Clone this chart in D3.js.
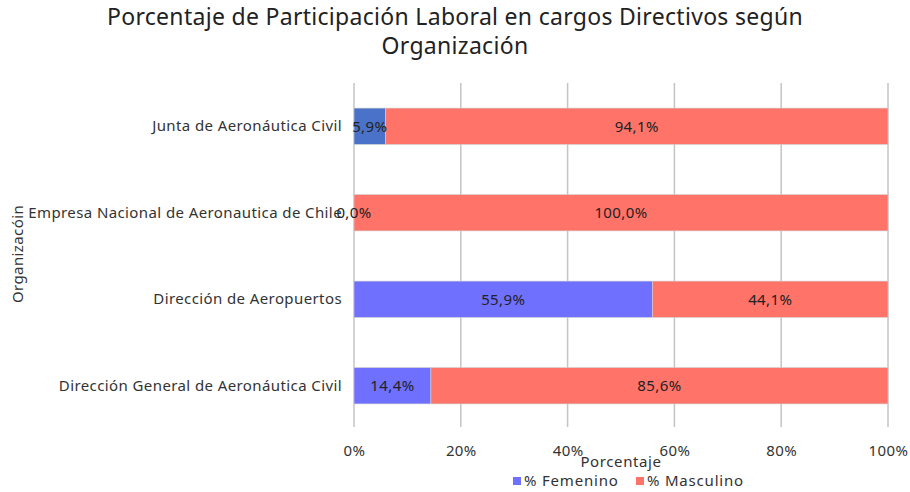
<!DOCTYPE html>
<html>
<head>
<meta charset="utf-8">
<script src="https://cdn.jsdelivr.net/npm/d3@7"></script>
<style>
  body { margin: 0; background: #fff; }
  svg { font-family: "Noto Sans", "Open Sans", sans-serif; letter-spacing: 0.4px; }
</style>
</head>
<body>
<svg id="chart" width="910" height="492"></svg>
<script>
// datos
const organizaciones = [
  "Junta de Aeronáutica Civil",
  "Empresa Nacional de Aeronautica de Chile",
  "Dirección de Aeropuertos",
  "Dirección General de Aeronáutica Civil"
];
const femenino  = [5.9, 0.0, 55.9, 14.4];
const masculino = [94.1, 100.0, 44.1, 85.6];
const xTicks = [0, 20, 40, 60, 80, 100];
const series = ["% Femenino", "% Masculino"];

const svg = d3.select("#chart");
const W = +svg.attr("width");

const m = { top: 83, right: 22, bottom: 63, left: 354 };
const plotW = 888 - m.left;
const plotH = 429 - m.top;

const colorFem = "#7070ff", colorFemTop = "#4a72c8", colorMas = "#ff7369";
const fmt = v => v.toFixed(1).replace(".", ",") + "%";
const FS = "15px";

// título
[["Porcentaje de Participación Laboral en cargos Directivos según", 25], ["Organización", 54]]
  .forEach(([t, yy]) => {
    svg.append("text")
      .attr("x", W / 2).attr("y", yy)
      .attr("text-anchor", "middle")
      .style("font-size", "23px").style("letter-spacing", "0.3px").style("fill", "#222")
      .text(t);
  });

const g = svg.append("g").attr("transform", `translate(${m.left},${m.top})`);

const x = d3.scaleLinear().domain([0, 100]).range([0, plotW]);
const y = d3.scaleBand().domain(organizaciones).range([0, plotH]).paddingInner(0.58).paddingOuter(0.29);

// grilla vertical
g.selectAll(".grid").data(xTicks).enter().append("line")
  .attr("x1", d => x(d)).attr("x2", d => x(d))
  .attr("y1", 0).attr("y2", plotH - 2)
  .attr("stroke", "#c4c4c4").attr("stroke-width", 1.5);

// eje x
const xAxis = g.append("g")
  .attr("transform", `translate(0,${plotH})`)
  .call(d3.axisBottom(x).tickValues(xTicks).tickFormat(d => d + "%").tickSize(0).tickPadding(16));
xAxis.select(".domain").remove();
xAxis.attr("font-family", null);
xAxis.selectAll("text").style("font-size", FS).style("fill", "#333");

// eje y (etiquetas)
const yAxis = g.append("g")
  .call(d3.axisLeft(y).tickSize(0).tickPadding(12));
yAxis.select(".domain").remove();
yAxis.attr("font-family", null);
yAxis.selectAll("text").style("font-size", FS).style("fill", "#333");

// barras
const rows = organizaciones.map((o, i) => ({ org: o, f: femenino[i], m: masculino[i], i }));

rows.forEach(r => {
  g.append("rect")
    .attr("x", x(0)).attr("y", y(r.org))
    .attr("width", x(r.f)).attr("height", y.bandwidth())
    .attr("fill", r.i === 0 ? colorFemTop : colorFem)
    .attr("stroke", "#d0d0d0").attr("stroke-width", 0.6);
  g.append("rect")
    .attr("x", x(r.f)).attr("y", y(r.org))
    .attr("width", x(r.f + r.m) - x(r.f)).attr("height", y.bandwidth())
    .attr("fill", colorMas)
    .attr("stroke", "#d0d0d0").attr("stroke-width", 0.6);

  g.append("text")
    .attr("x", x(r.f / 2)).attr("y", y(r.org) + y.bandwidth() / 2)
    .attr("dy", "0.35em").attr("text-anchor", "middle")
    .style("font-size", FS).style("fill", "#222")
    .text(fmt(r.f));
  g.append("text")
    .attr("x", x(r.f + r.m / 2)).attr("y", y(r.org) + y.bandwidth() / 2)
    .attr("dy", "0.35em").attr("text-anchor", "middle")
    .style("font-size", FS).style("fill", "#222")
    .text(fmt(r.m));
});

// títulos de ejes
svg.append("text")
  .attr("x", m.left + plotW / 2).attr("y", 467)
  .attr("text-anchor", "middle")
  .style("font-size", FS).style("letter-spacing", "0.6px").style("fill", "#333")
  .text("Porcentaje");

svg.append("text")
  .attr("transform", `translate(23,${m.top + plotH / 2 - 2}) rotate(-90)`)
  .attr("text-anchor", "middle")
  .style("font-size", FS).style("fill", "#333")
  .text("Organizacóin");

// leyenda
const legend = svg.append("g").attr("transform", "translate(513,477)");
const legColors = [colorFem, colorMas];
const legX = [0, 123];
series.forEach((s, i) => {
  legend.append("rect").attr("x", legX[i]).attr("y", 0).attr("width", 8).attr("height", 8).attr("fill", legColors[i]);
  legend.append("text").attr("x", legX[i] + 11).attr("y", 9)
    .style("font-size", FS).style("letter-spacing", "0.8px").style("fill", "#333").text(s);
});
</script>
</body>
</html>
